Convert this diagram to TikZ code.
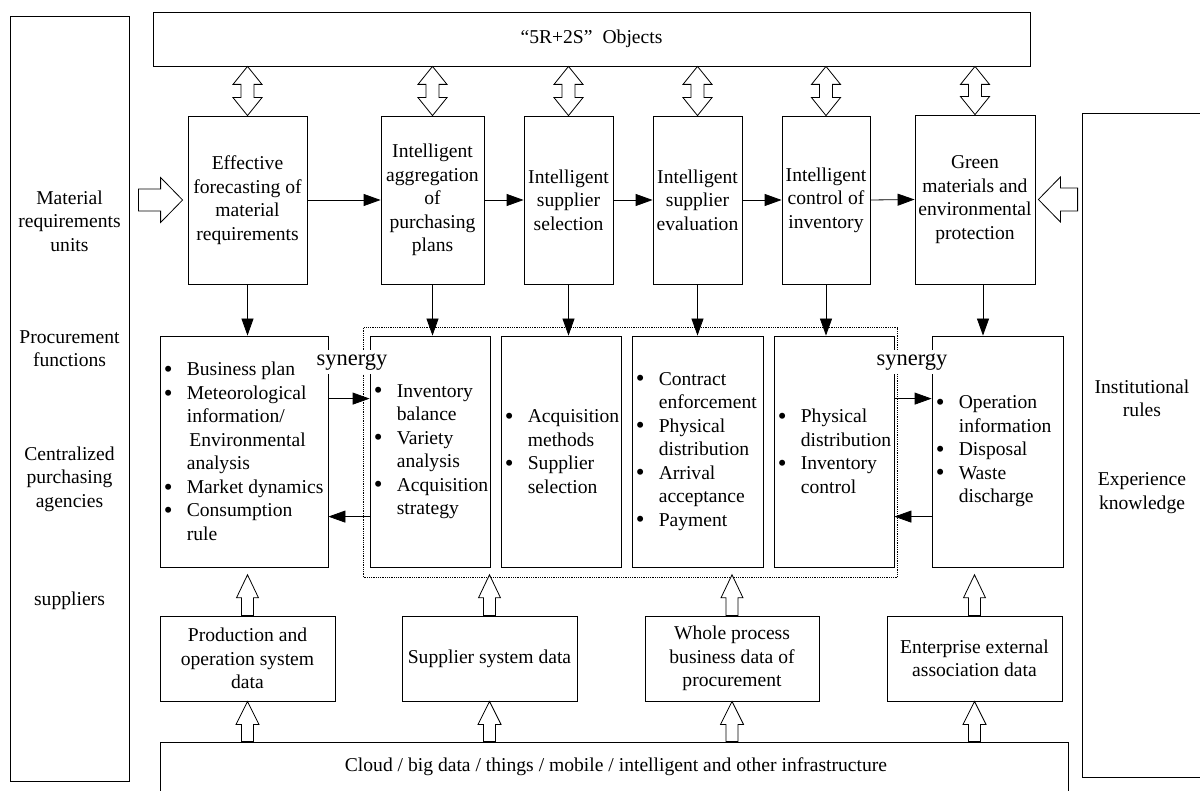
\documentclass[tikz,border=0pt]{standalone}
\usepackage{fontspec}
\setmainfont{Liberation Serif}
\usetikzlibrary{arrows.meta,calc,fit}

\newcommand\dgfont{\fontsize{19.6pt}{23.5pt}\selectfont}
\newcommand\synfont{\fontsize{22.5pt}{26pt}\selectfont}
% bullet line and its continuation line
\newcommand\bdot{\raisebox{-1.6pt}{\fontsize{25pt}{25pt}\selectfont\textbullet}}
\newcommand\bitem[1]{\makebox[22pt][l]{\hspace*{-1pt}\bdot}#1}
\newcommand\bcont[1]{\hspace*{22pt}#1}

\tikzset{
  box/.style 2 args={draw, line width=.8pt, inner sep=0pt, align=center,
    minimum width=#1, minimum height=#2},
  txt/.style={inner sep=0pt, align=center},
  lst/.style={inner sep=0pt, align=left, anchor=west},
  grpbox/.style={draw, line width=.8pt, densely dotted, inner sep=0pt},
  syn/.style={fill=white, font=\synfont, inner xsep=1pt, inner ysep=4pt},
  arr/.style={line width=.8pt, -{Triangle[length=17pt,width=12pt]}},
  % hollow block arrow: #1 head length, #2 head half width, #3 shaft half width
  fat/.style n args={3}{draw, line width=.8pt, fill=white, to path={
    ($(\tikztostart)!#3!90:(\tikztotarget)$)
    -- ($(\tikztotarget)!#1!(\tikztostart)!#3!90:(\tikztotarget)$)
    -- ($(\tikztotarget)!#1!(\tikztostart)!#2!90:(\tikztotarget)$)
    -- (\tikztotarget)
    -- ($(\tikztotarget)!#1!(\tikztostart)!#2!-90:(\tikztotarget)$)
    -- ($(\tikztotarget)!#1!(\tikztostart)!#3!-90:(\tikztotarget)$)
    -- ($(\tikztostart)!#3!-90:(\tikztotarget)$)
    -- cycle}},
  % hollow double-headed block arrow
  fatboth/.style n args={3}{draw, line width=.8pt, fill=white, to path={
    (\tikztostart)
    -- ($(\tikztostart)!#1!(\tikztotarget)!#2!90:(\tikztotarget)$)
    -- ($(\tikztostart)!#1!(\tikztotarget)!#3!90:(\tikztotarget)$)
    -- ($(\tikztotarget)!#1!(\tikztostart)!#3!90:(\tikztotarget)$)
    -- ($(\tikztotarget)!#1!(\tikztostart)!#2!90:(\tikztotarget)$)
    -- (\tikztotarget)
    -- ($(\tikztotarget)!#1!(\tikztostart)!#2!-90:(\tikztotarget)$)
    -- ($(\tikztotarget)!#1!(\tikztostart)!#3!-90:(\tikztotarget)$)
    -- ($(\tikztostart)!#1!(\tikztotarget)!#3!-90:(\tikztotarget)$)
    -- ($(\tikztostart)!#1!(\tikztotarget)!#2!-90:(\tikztotarget)$)
    -- cycle}},
}

\begin{document}
\begin{tikzpicture}[x=1pt, y=-1pt, font=\dgfont]
\useasboundingbox (0,0) rectangle (1200,791);
\fill[white] (0,0) rectangle (1200,791);
\clip (0,0) rectangle (1200,791);

% frame boxes
\node[box={877pt}{54pt}] (top) at (591.5,39) {“5R+2S”\hspace{10pt}Objects};
\node[box={119pt}{765pt}] (left) at (69.5,398.5) {};
\node[box={140pt}{664pt}] (right) at (1152,445) {};

% left column labels
\node[txt] (m1) at (69.5,221) {Material\\requirements\\units};
\node[txt] (m2) at (69.5,348.5) {Procurement\\functions};
\node[txt] (m3) at (69.5,479) {Centralized\\purchasing\\agencies};
\node[txt] (m4) at (69.5,601) {suppliers};

% right column labels
\node[txt] (r1) at (1142,398.5) {Institutional\\rules};
\node[txt] (r2) at (1142,493) {Experience\\knowledge};

% process stages
\node[box={119pt}{168pt}] (B1) at (247.5,200) {Effective\\forecasting of\\material\\requirements};
\node[box={103pt}{168pt}] (B2) at (432.5,200) {Intelligent\\aggregation\\of\\purchasing\\plans};
\node[box={89pt}{168pt}] (B3) at (568.5,200) {Intelligent\\supplier\\selection};
\node[box={89pt}{168pt}] (B4) at (697.5,200) {Intelligent\\supplier\\evaluation};
\node[box={88pt}{168pt}] (B5) at (826,200) {Intelligent\\control of\\inventory};
\node[box={120pt}{169pt}] (B6) at (975,199.5) {Green\\materials and\\environmental\\protection};

% content boxes
\node[box={168pt}{231pt}] (L1) at (244,451.5) {};
\node[box={120pt}{231pt}] (L2) at (430,451.5) {};
\node[box={120pt}{231pt}] (L3) at (561,451.5) {};
\node[box={131pt}{231pt}] (L4) at (697.5,451.5) {};
\node[box={120pt}{231pt}] (L5) at (834,451.5) {};
\node[box={131pt}{231pt}] (L6) at (997.5,451.5) {};

\node[lst] (t1) at ($(L1.west)+(5,0)$) {\bitem{Business plan}\\ \bitem{Meteorological}\\ \bcont{information/}\\ \hspace*{24.5pt}Environmental\\ \bcont{analysis}\\ \bitem{Market dynamics}\\ \bitem{Consumption}\\ \bcont{rule}};
\node[lst] (t2) at ($(L2.west)+(5,0)$) {\bitem{Inventory}\\ \bcont{balance}\\ \bitem{Variety}\\ \bcont{analysis}\\ \bitem{Acquisition}\\ \bcont{strategy}};
\node[lst] (t3) at ($(L3.west)+(5,0)$) {\bitem{Acquisition}\\ \bcont{methods}\\ \bitem{Supplier}\\ \bcont{selection}};
\node[lst] (t4) at ($(L4.west)+(5,0)$) {\bitem{Contract}\\ \bcont{enforcement}\\ \bitem{Physical}\\ \bcont{distribution}\\ \bitem{Arrival}\\ \bcont{acceptance}\\ \bitem{Payment}};
\node[lst] (t5) at ($(L5.west)+(5,0)$) {\bitem{Physical}\\ \bcont{distribution}\\ \bitem{Inventory}\\ \bcont{control}};
\node[lst] (t6) at ($(L6.west)+(5,0)$) {\bitem{Operation}\\ \bcont{information}\\ \bitem{Disposal}\\ \bitem{Waste}\\ \bcont{discharge}};

% dotted group around the middle boxes
\coordinate (g1) at ($(L2.north west)+(-6,-8)$);
\coordinate (g2) at ($(L5.south east)+(3,10)$);
\node[grpbox, fit=(g1)(g2)] (grp) {};

% data sources
\node[box={175pt}{85pt}] (D1) at (247.5,658.5) {Production and\\operation system\\data};
\node[box={175pt}{85pt}] (D2) at (489.5,658.5) {Supplier system data};
\node[box={174pt}{85pt}] (D3) at (732,658.5) {Whole process\\business data of\\procurement};
\node[box={175pt}{85pt}] (D4) at (974.5,658.5) {Enterprise external\\association data};

% infrastructure
\node[box={908pt}{68pt}] (bottom) at (614,776) {};
\node[txt] (bt) at (616,767) {Cloud / big data / things / mobile / intelligent and other infrastructure};

% links to the objects bar
\foreach \b in {B1,B2,B3,B4,B5,B6}
  \draw[fatboth={18pt}{14.5pt}{6.5pt}] (\b.north |- top.south) to (\b.north);

% side inputs
\draw[fat={22pt}{22.5pt}{11pt}] ($(left.east |- B1.west)+(9,0)$) to ($(B1.west)+(-5,0)$);
\draw[fat={22pt}{22.5pt}{11.5pt}] ($(right.west |- B6.east)+(-4,0)$) to ($(B6.east)+(3,0)$);

% stage flow
\draw[arr] (B1.east) -- (B2.west);
\draw[arr] (B2.east) -- (B3.west);
\draw[arr] (B3.east) -- (B4.west);
\draw[arr] (B4.east) -- (B5.west);
\draw[arr] (B5.east) -- (B6.west);

\draw[arr] (B1.south) -- (B1.south |- L1.north);
\draw[arr] (B2.south) -- (B2.south |- L2.north);
\draw[arr] (B3.south) -- (B3.south |- L3.north);
\draw[arr] (B4.south) -- (B4.south |- L4.north);
\draw[arr] (B5.south) -- (B5.south |- L5.north);
\draw[arr] ($(B6.south)+(8,0)$) -- ($(B6.south |- L6.north)+(8,0)$);

% synergy exchanges
\draw[arr] ($(L1.north east)+(0,63)$) -- ($(L2.north west)+(0,63)$);
\draw[arr] ($(L2.north west)+(0,181)$) -- ($(L1.north east)+(0,181)$);
\draw[arr] ($(L5.north east)+(0,63)$) -- ($(L6.north west)+(0,63)$);
\draw[arr] ($(L6.north west)+(0,181)$) -- ($(L5.north east)+(0,181)$);

% data feeding
\foreach \d in {D1,D2,D3,D4} {
  \draw[fat={23pt}{11pt}{6pt}] (\d.north) to ($(\d.north |- grp.south)+(0,-3)$);
  \draw[fat={23pt}{11.5pt}{6pt}] (\d.south |- bottom.north) to (\d.south);
}

\node[syn] (s1) at (352,362) {synergy};
\node[syn] (s2) at (912,362) {synergy};
\end{tikzpicture}
\end{document}
